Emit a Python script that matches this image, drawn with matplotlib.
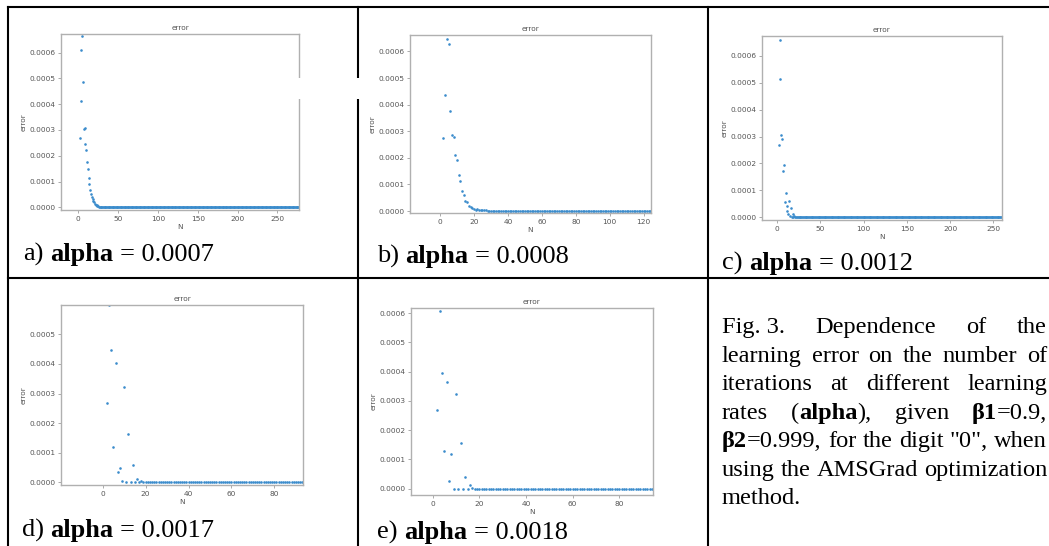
import numpy as np
import matplotlib
matplotlib.use("Agg")
import matplotlib.pyplot as plt
from matplotlib.lines import Line2D
from matplotlib.patches import Rectangle
from matplotlib.ticker import FormatStrFormatter

W, H = 1049, 546

# error values per iteration (first point is N=2)
err_a_head = [0.00027, 0.000414, 0.000609, 0.000666, 0.000486, 0.000304, 0.000309, 0.000246,
              0.000222, 0.000177, 0.000147, 0.000115, 0.000092, 0.000066, 0.000052, 0.00004,
              0.000032, 0.000025, 0.000019, 0.000014, 0.00001, 0.000008, 0.000006, 0.000004,
              0.000003, 0.000002, 0.0000015, 0.000001, 0.0000007]
err_b_head = [0.000273, 0.000435, 0.000648, 0.000629, 0.000375, 0.000287, 0.00028, 0.00021,
              0.00019, 0.000134, 0.000113, 0.000074, 0.000061, 0.000039, 0.000033, 0.00002,
              0.000015, 0.000012, 0.000008, 0.000005, 0.000006, 0.000004, 0.000003, 0.000003,
              0.000002, 0.000002, 0.0000015, 0.000001, 0.0000005]
err_c_head = [0.00027, 0.000514, 0.000659, 0.000307, 0.000292, 0.000173, 0.000194, 0.000057,
              0.00009, 0.000022, 0.000042, 0.000011, 0.000059, 0.000005, 0.000035, 0.000003,
              0.000013, 0.000002, 0.000004, 0.000001, 0.000001]
err_d_head = [0.000269, 0.000598, 0.000448, 0.000118, 0.000403, 0.000034, 0.000047, 0.000004,
              0.000323, 0.0, 0.000163, 0.0, 0.0000595, 0.0, 0.000012, 0.0, 0.000004, 0.000001]
err_e_head = [0.00027, 0.000608, 0.000397, 0.00013, 0.000365, 0.0000263, 0.00012, 0.0,
              0.000325, 0.0, 0.000156, 0.0, 0.000041, 0.0, 0.0000116, 0.000003]

# after the head the error sits at zero until the last iteration shown
last_N = {"a": 280, "b": 125, "c": 260, "d": 93, "e": 94}

captions = [("a)", "alpha", "= 0.0007"), ("b)", "alpha", "= 0.0008"), ("c)", "alpha", "= 0.0012"),
            ("d)", "alpha", "= 0.0017"), ("e)", "alpha", "= 0.0018")]

def series(head, last):
    vals = list(head) + [0.0] * (last - 1 - len(head))
    n = np.arange(2, 2 + len(vals))
    return n, np.array(vals)

fig = plt.figure(figsize=(W / 100, H / 100), dpi=100)

def fx(x):
    return x / W

def fy(y):
    return 1 - y / H

def add_ax(left, top, right, bottom):
    return fig.add_axes([fx(left), fy(bottom), (right - left) / W, (bottom - top) / H])

# pixel boxes of the axes, limits, ticks
panels = [
    ("a", err_a_head, (61, 34, 299, 210), (-21.7, 277), (-0.0000105, 0.000672), np.arange(0, 251, 50), np.arange(0, 0.00061, 0.0001)),
    ("b", err_b_head, (410, 34.7, 651, 213), (-17.7, 124.3), (-0.0000075, 0.000663), np.arange(0, 121, 20), np.arange(0, 0.00061, 0.0001)),
    ("c", err_c_head, (761.7, 35.7, 1001.7, 220), (-17.7, 259.7), (-0.00001, 0.000675), np.arange(0, 251, 50), np.arange(0, 0.00061, 0.0001)),
    ("d", err_d_head, (60.7, 305.3, 303.3, 485), (-19.6, 93.5), (-0.0000091, 0.000598), np.arange(0, 81, 20), np.arange(0, 0.00051, 0.0001)),
    ("e", err_e_head, (410.7, 307.7, 652.7, 495), (-9.4, 94.3), (-0.0000216, 0.000619), np.arange(0, 81, 20), np.arange(0, 0.00061, 0.0001)),
]

small = 5.3
for key, head, box, xl, yl, xt, yt in panels:
    ax = add_ax(*box)
    n, v = series(head, last_N[key])
    ax.scatter(n, v, s=3.5, color="#3b8ccc", linewidths=0, clip_on=True)
    ax.set_xlim(*xl)
    ax.set_ylim(*yl)
    ax.set_xticks(xt)
    ax.set_yticks(yt)
    ax.yaxis.set_major_formatter(FormatStrFormatter("%.4f"))
    ax.tick_params(labelsize=small, labelcolor="#555555", length=2, width=0.5, color="#888888", pad=2)
    for sp in ax.spines.values():
        sp.set_color("#b0b0b0")
        sp.set_linewidth(1.0)
    ax.set_title("error", fontsize=small, color="#555555", pad=3)
    ax.set_xlabel("N", fontsize=small, color="#555555", labelpad=2)
    ax.set_ylabel("error", fontsize=small, color="#555555", labelpad=2)

# table rules
lw = 1.5
def hline(y, x0, x1):
    fig.add_artist(Line2D([fx(x0), fx(x1)], [fy(y), fy(y)], color="black", lw=lw))

def vline(x, y0, y1):
    fig.add_artist(Line2D([fx(x), fx(x)], [fy(y0), fy(y1)], color="black", lw=lw))

hline(7, 8, W)
hline(278, 8, W)
vline(8, 7, H)
vline(358, 7, 78)
vline(358, 99, H)
vline(708, 7, H)
fig.add_artist(Rectangle((fx(297), fy(99)), (362 - 297) / W, 21 / H, transform=fig.transFigure,
                         facecolor="white", edgecolor="none", zorder=5))

# captions and the figure note, Times-like serif
serif = "Liberation Serif"
renderer = fig.canvas.get_renderer()

def width_of(txt, bold, fs):
    t = fig.text(0, 0, txt, fontsize=fs, family=serif, fontweight="bold" if bold else "normal")
    w = t.get_window_extent(renderer).width
    t.remove()
    return w

def draw_word(x, y, runs, fs):
    for txt, bold in runs:
        fig.text(fx(x), fy(y), txt, fontsize=fs, family=serif, va="baseline", ha="left",
                 fontweight="bold" if bold else "normal", color="black")
        x += width_of(txt, bold, fs)
    return x

cap_fs = 19
cap_space = 0.25 * cap_fs * 100 / 72
cap_pos = [(23, 261), (377, 263), (722, 270), (22, 537), (377, 539)]
for (a, b, c), (x, y) in zip(captions, cap_pos):
    x = draw_word(x, y, [(a, False)], cap_fs) + cap_space
    x = draw_word(x, y, [(b, True)], cap_fs) + cap_space
    draw_word(x, y, [(c, False)], cap_fs)

note_lines = [
    [[("Fig. 3.", False)], [("Dependence", False)], [("of", False)], [("the", False)]],
    [[("learning", False)], [("error", False)], [("on", False)], [("the", False)], [("number", False)], [("of", False)]],
    [[("iterations", False)], [("at", False)], [("different", False)], [("learning", False)]],
    [[("rates", False)], [("(", False), ("alpha", True), ("),", False)], [("given", False)], [("β1", True), ("=0.9,", False)]],
    [[("β2", True), ("=0.999,", False)], [("for", False)], [("the", False)], [("digit", False)], [('"0",', False)], [("when", False)]],
    [[("using", False)], [("the", False)], [("AMSGrad", False)], [("optimization", False)]],
    [[("method.", False)]],
]
note_fs = 17.6
note_space = 0.25 * note_fs * 100 / 72
left, right = 722, 1047
y = 333.3
for i, words in enumerate(note_lines):
    widths = [sum(width_of(t, b, note_fs) for t, b in w) for w in words]
    if i == len(note_lines) - 1 or len(words) == 1:
        gap = note_space
    else:
        gap = max((right - left - sum(widths)) / (len(words) - 1), note_space)
    x = left
    for w, wd in zip(words, widths):
        draw_word(x, y, w, note_fs)
        x += wd + gap
    y += 28.5

fig.savefig("out.png", dpi=100)
